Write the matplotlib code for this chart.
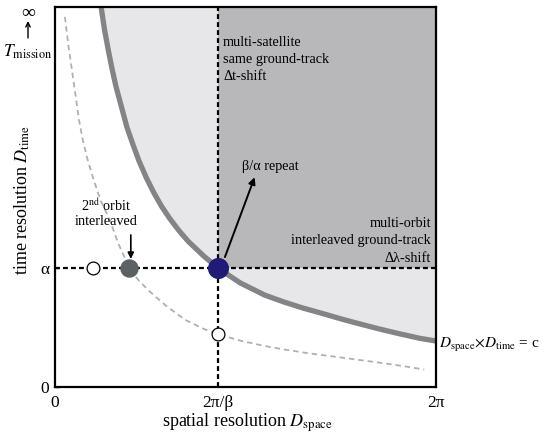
import matplotlib
matplotlib.use("Agg")
import matplotlib.pyplot as plt

plt.rcParams['font.family'] = ['Liberation Serif', 'DejaVu Serif']
plt.rcParams['mathtext.fontset'] = 'stix'

# ---- data (normalised: x in [0, 2pi] -> [0,1], y in [0, T_mission] -> [0,1]) ----
x_beta = 0.428      # 2pi/beta
y_alpha = 0.313     # alpha

# main curve  D_space x D_time = c
curve_x = [0.121, 0.13, 0.14, 0.15, 0.16, 0.175, 0.189, 0.205, 0.22, 0.24, 0.26, 0.28, 0.30, 0.325, 0.35,
           0.39, 0.428, 0.486, 0.55, 0.60, 0.65, 0.70, 0.748, 0.80, 0.85, 0.90, 0.958, 1.0]
curve_y = [1.0, 0.94, 0.886, 0.836, 0.791, 0.735, 0.683, 0.637, 0.596, 0.550, 0.510, 0.475, 0.445, 0.412, 0.383,
           0.345, 0.313, 0.274, 0.242, 0.224, 0.208, 0.194, 0.180, 0.166, 0.153, 0.141, 0.128, 0.121]

# lower dashed curve
dash_x = [0.026, 0.035, 0.045, 0.055, 0.063, 0.073, 0.085, 0.10, 0.12, 0.144, 0.165, 0.186, 0.194, 0.22, 0.25,
          0.29, 0.341, 0.39, 0.428, 0.486, 0.55, 0.60, 0.67, 0.748, 0.80, 0.86, 0.92, 0.969]
dash_y = [0.974, 0.90, 0.83, 0.76, 0.703, 0.65, 0.60, 0.55, 0.49, 0.44, 0.38, 0.334, 0.313, 0.28, 0.25,
          0.215, 0.177, 0.153, 0.139, 0.122, 0.108, 0.099, 0.088, 0.078, 0.071, 0.063, 0.054, 0.046]

open_pts_x = [0.10, 0.428]
open_pts_y = [0.313, 0.139]
gray_pt = (0.194, 0.313)
blue_pt = (0.428, 0.313)

xtick_pos = [0, 0.428, 1.0]
xtick_lab = ['0', '2π/β', '2π']
ytick_pos = [0, 0.313]
ytick_lab = ['0', 'α']

# ---- figure ----
fig = plt.figure(figsize=(5.46, 4.34), dpi=100)
ax = fig.add_axes([55/546, 47/434, 381/546, 380/434])
ax.set_xlim(0, 1)
ax.set_ylim(0, 1)

light = '#e7e7e9'
dark = '#b8b8bb'
ax.fill_between(curve_x, curve_y, 1, color=light, lw=0, zorder=1)
ax.fill_between([x_beta, 1], y_alpha, 1, color=dark, lw=0, zorder=1.5)

ax.plot(dash_x, dash_y, color='#b0b0b0', lw=1.3, ls=(0, (3, 2.2)), zorder=2)
ax.plot(curve_x, curve_y, color='#838486', lw=3.8, solid_capstyle='butt', zorder=3)

ax.axhline(y_alpha, color='black', lw=1.6, ls=(0, (2.2, 1.4)), zorder=2.5)
ax.axvline(x_beta, color='black', lw=1.6, ls=(0, (2.2, 1.4)), zorder=2.5)

ax.scatter(open_pts_x, open_pts_y, s=85, facecolor='white', edgecolor='black', lw=0.9, zorder=5)
ax.scatter([gray_pt[0]], [gray_pt[1]], s=150, color='#5c6163', zorder=5)
ax.scatter([blue_pt[0]], [blue_pt[1]], s=200, color='#1f1b77', zorder=5)

for s in ax.spines.values():
    s.set_linewidth(1.6)
    s.set_zorder(6)

ax.set_xticks(xtick_pos)
ax.set_xticklabels(xtick_lab, fontsize=12.5)
ax.set_yticks(ytick_pos)
ax.set_yticklabels(ytick_lab, fontsize=12.5)
ax.tick_params(direction='in', length=3, width=1, pad=4)
ax.tick_params(axis='x', length=0, pad=6)

# texts
ax.text(0.441, 0.925, "multi-satellite\nsame ground-track\nΔt-shift", fontsize=10.3,
        ha='left', va='top', linespacing=1.42, zorder=7)
ax.text(0.987, 0.322, "multi-orbit\ninterleaved ground-track\nΔλ-shift", fontsize=10.3,
        ha='right', va='bottom', multialignment='right', linespacing=1.42, zorder=7)
ax.text(0.564, 0.579, "β/α repeat", fontsize=10.3, ha='center', va='center', zorder=7)
ax.text(0.134, 0.418, "2$^{\\rm nd}$ orbit\ninterleaved", fontsize=10.3, ha='center', va='bottom',
        linespacing=1.15, zorder=7)

ax.annotate("", xy=(0.199, 0.337), xytext=(0.199, 0.40),
            arrowprops=dict(arrowstyle='-|>', color='black', lw=1.2, mutation_scale=9,
                            shrinkA=0, shrinkB=0), zorder=7)
ax.annotate("", xy=(0.524, 0.552), xytext=(0.446, 0.342),
            arrowprops=dict(arrowstyle='-|>', color='black', lw=1.4, mutation_scale=10,
                            shrinkA=0, shrinkB=0), zorder=7)

fig.text(247/546, 1 - 423/434, r"spatial resolution $D_{\rm space}$", fontsize=13,
         ha='center', va='center')
fig.text(22/546, 1 - 200/434, r"time resolution $D_{\rm time}$", fontsize=13,
         rotation=90, ha='center', va='center')

fig.text(439/546, 1 - 345/434, r"$D_{\rm space}$$\times$$D_{\rm time}$ = c", fontsize=11,
         ha='left', va='center')

fig.text(28/546, 1 - 13/434, "∞", fontsize=14, ha='center', va='center')
ax.annotate("", xy=(28/546, 1 - 21/434), xytext=(28/546, 1 - 38/434), xycoords='figure fraction',
            textcoords='figure fraction',
            arrowprops=dict(arrowstyle='->', color='black', lw=1.0, mutation_scale=8,
                            shrinkA=0, shrinkB=0))
fig.text(28/546, 1 - 52/434, r"$T_{\rm mission}$", fontsize=12.5, ha='center', va='center')

fig.savefig("out.png", dpi=100)
